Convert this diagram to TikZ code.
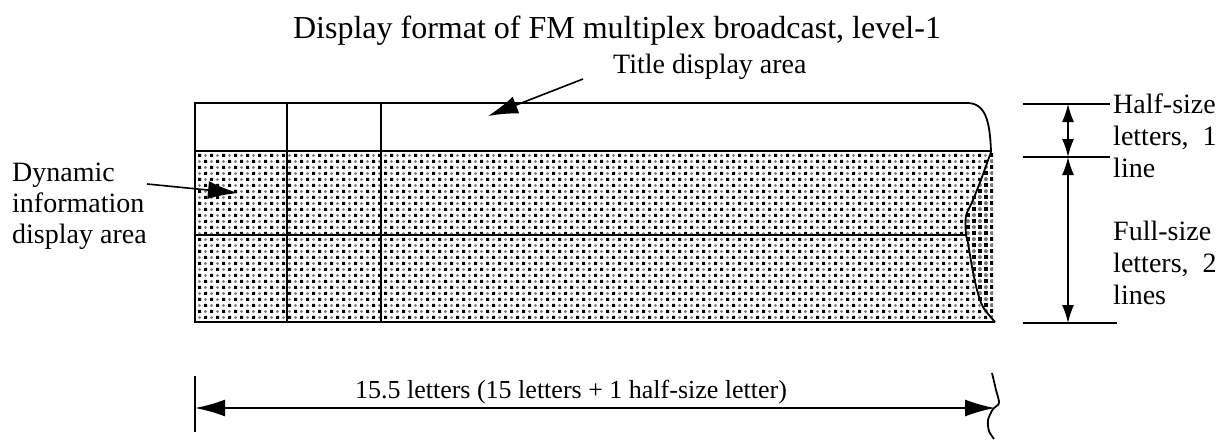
\documentclass[tikz,border=0pt]{standalone}
\usepackage{fontspec}
\setmainfont{Liberation Serif}
\usetikzlibrary{arrows.meta}
\usetikzlibrary{patterns}

% screen dots for the dynamic area
\pgfdeclarepatterninherentlycolored{fmdots}
{\pgfpoint{-2pt}{-2pt}}{\pgfpoint{14pt}{14pt}}{\pgfpoint{12pt}{12pt}}
{
  \pgfsetfillcolor{black}
  \pgfpathrectangle{\pgfpoint{0pt}{0pt}}{\pgfpoint{3pt}{3pt}}
  \pgfpathrectangle{\pgfpoint{6pt}{6pt}}{\pgfpoint{3pt}{3pt}}
  \pgfusepath{fill}
  \pgfsetfillcolor{black!50}
  \pgfpathcircle{\pgfpoint{7.5pt}{1.5pt}}{1.6pt}
  \pgfpathcircle{\pgfpoint{1.5pt}{7.5pt}}{1.6pt}
  \pgfusepath{fill}
}
\pgfdeclarepatterninherentlycolored{fmdark}
{\pgfpoint{-2pt}{-2pt}}{\pgfpoint{14pt}{14pt}}{\pgfpoint{12pt}{12pt}}
{
  \pgfsetfillcolor{black}
  \pgfpathrectangle{\pgfpoint{0pt}{0pt}}{\pgfpoint{3.8pt}{3.8pt}}
  \pgfpathrectangle{\pgfpoint{6pt}{6pt}}{\pgfpoint{3.8pt}{3.8pt}}
  \pgfusepath{fill}
  \pgfsetfillcolor{black!55}
  \pgfpathcircle{\pgfpoint{7.9pt}{1.9pt}}{2pt}
  \pgfpathcircle{\pgfpoint{1.9pt}{7.9pt}}{2pt}
  \pgfusepath{fill}
}

\tikzset{
  txt/.style={anchor=base west,align=left,inner sep=0pt,font=\fontsize{28}{32}\selectfont},
  frame/.style={line width=1.8pt},
  bigtip/.style={{Latex[length=30pt,width=17pt]}-{Latex[length=30pt,width=17pt]}},
  smalltip/.style={{Latex[length=18pt,width=12pt]}-{Latex[length=18pt,width=12pt]}},
  pointer/.style={line width=1.6pt,-{Latex[length=30pt,width=18pt]}}
}

\begin{document}
\begin{tikzpicture}[x=1pt,y=-1pt]
\useasboundingbox (0,0) rectangle (1222,439);
% title
\node[anchor=base,inner sep=0pt,font=\fontsize{32}{36}\selectfont] (title) at (617,38)
  {Display format of FM multiplex broadcast, level-1};
% dotted area
\fill[pattern=fmdots] (195,151) rectangle (992,322);
\fill[white] plot[smooth] coordinates {(991,152) (982,177) (973,200) (966,216) (966,235) (968,243) (972,267) (977,290) (983,307) (995,322)} -- (1000,322) -- (1000,151) -- cycle;
\fill[pattern=fmdark] plot[smooth] coordinates {(991,152) (982,177) (973,200) (966,216) (966,235) (968,243) (972,267) (977,290) (983,307) (995,322)} -- (993,322) -- (993,151) -- cycle;
% frame
\draw[frame] (991,152) .. controls (990,120) and (985,103) .. (967,103) -- (195,103) -- (195,322) -- (995,322);
\draw[frame] (195,151) -- (991,151);
\draw[frame] (195,235) -- (966,235);
\draw[frame] (287,103) -- (287,322);
\draw[frame] (381,103) -- (381,322);
\draw[frame] plot[smooth] coordinates {(991,152) (982,177) (973,200) (966,216) (966,235) (968,243) (972,267) (977,290) (983,307) (995,322)};
% title display area
\node[txt] (titlearea) at (613,73) {Title display area};
\coordinate (titletail) at (583,79);
\coordinate (titletip) at (488,116);
\draw[pointer] (titletail) -- (titletip);
% dynamic information display area
\node[txt,font=\fontsize{28}{31}\selectfont] (dynamic) at (12,243) {Dynamic\\information\\display area};
\coordinate (dyntail) at (147,184);
\coordinate (dyntip) at (238,193);
\draw[pointer] (dyntail) -- (dyntip);
% right dimension
\coordinate (halftop) at (1068,104);
\coordinate (halfbot) at (1068,157);
\coordinate (fullbot) at (1068,323);
\draw[frame] (1023,104) -- (1110,104);
\draw[frame] (1023,157) -- (1110,157);
\draw[frame] (1023,323) -- (1117,323);
\draw[line width=1.5pt,smalltip] (halftop) -- (halfbot);
\draw[line width=1.5pt,smalltip] (halfbot) -- (fullbot);
\node[txt] (halfsize) at (1113,177) {Half-size\\letters,~ 1\\line};
\node[txt] (fullsize) at (1113,304) {Full-size\\letters,~ 2\\lines};
% bottom dimension
\draw[frame] (195,376) -- (195,432);
\draw[frame] plot[smooth] coordinates {(992,373) (996,390) (999,403) (993,409) (988,420) (989,431) (994,439)};
\coordinate (widthleft) at (195,408);
\coordinate (widthright) at (995,408);
\draw[frame,bigtip] (widthleft) -- (widthright);
\node[anchor=base,inner sep=0pt,font=\fontsize{26}{31}\selectfont] (width) at (571,398)
  {15.5 letters (15 letters + 1 half-size letter)};
\end{tikzpicture}
\end{document}
